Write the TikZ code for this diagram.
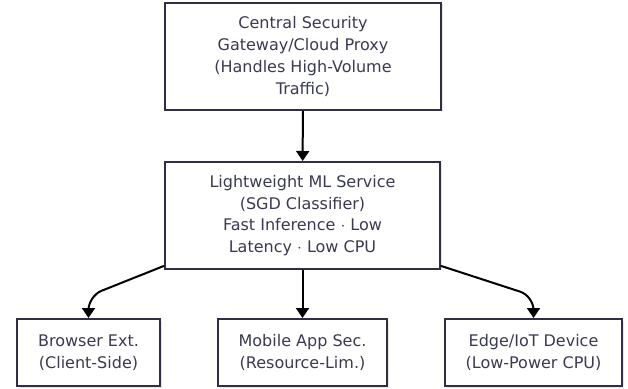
\documentclass[tikz,border=0pt]{standalone}
\usepackage{fontspec}
\setmainfont{DejaVu Sans}
\usepackage{tikz}
\usetikzlibrary{positioning}
\usetikzlibrary{arrows.meta}
\usetikzlibrary{shadows}
\definecolor{boxline}{HTML}{2E2E45}
\definecolor{boxtext}{HTML}{3A3A52}

\begin{document}
\begin{tikzpicture}[
    x=1pt, y=1pt,
    font=\fontsize{16}{21.7}\selectfont,
    % boxes (all white with a soft shadow)
    box/.style={rectangle, draw=boxline, line width=2pt, fill=white,
        text=boxtext, align=center, inner sep=0pt,
        drop shadow={shadow xshift=1.5pt, shadow yshift=-1.5pt, fill=black!18}},
    arr/.style={draw=black, line width=2pt, -{Triangle[length=10pt,width=13pt]}},
]
\useasboundingbox (0,0) rectangle (628,388);

% =========================================================
% Upper two boxes
% =========================================================
\node[box, minimum width=276pt, minimum height=107pt] (gate) at (303, 331.5)
    {Central Security\\Gateway/Cloud Proxy\\(Handles High-Volume\\Traffic)};
\node[box, minimum width=275pt, minimum height=107pt] (svc) at (302.5, 172.5)
    {Lightweight ML Service\\(SGD Classifier)\\Fast Inference $\cdot$ Low\\Latency $\cdot$ Low CPU};

% =========================================================
% Deployment targets (bottom row)
% =========================================================
\node[box, minimum width=143pt, minimum height=67pt] (brow) at (88.5, 35.5)
    {Browser Ext.\\(Client-Side)};
\node[box, minimum width=169pt, minimum height=67pt] (mob) at (302.5, 35.5)
    {Mobile App Sec.\\(Resource-Lim.)};
\node[box, minimum width=177pt, minimum height=67pt] (edge) at (533.5, 35.5)
    {Edge/IoT Device\\(Low-Power CPU)};

% edges
\draw[arr] (gate) -- (svc);
\draw[arr] (svc) -- (mob);
\draw[arr, rounded corners=14pt] (svc.200) -- ([yshift=22pt]brow.north) -- (brow.north);
\draw[arr, rounded corners=14pt] (svc.-20) -- ([yshift=22pt]edge.north) -- (edge.north);

\end{tikzpicture}
\end{document}
